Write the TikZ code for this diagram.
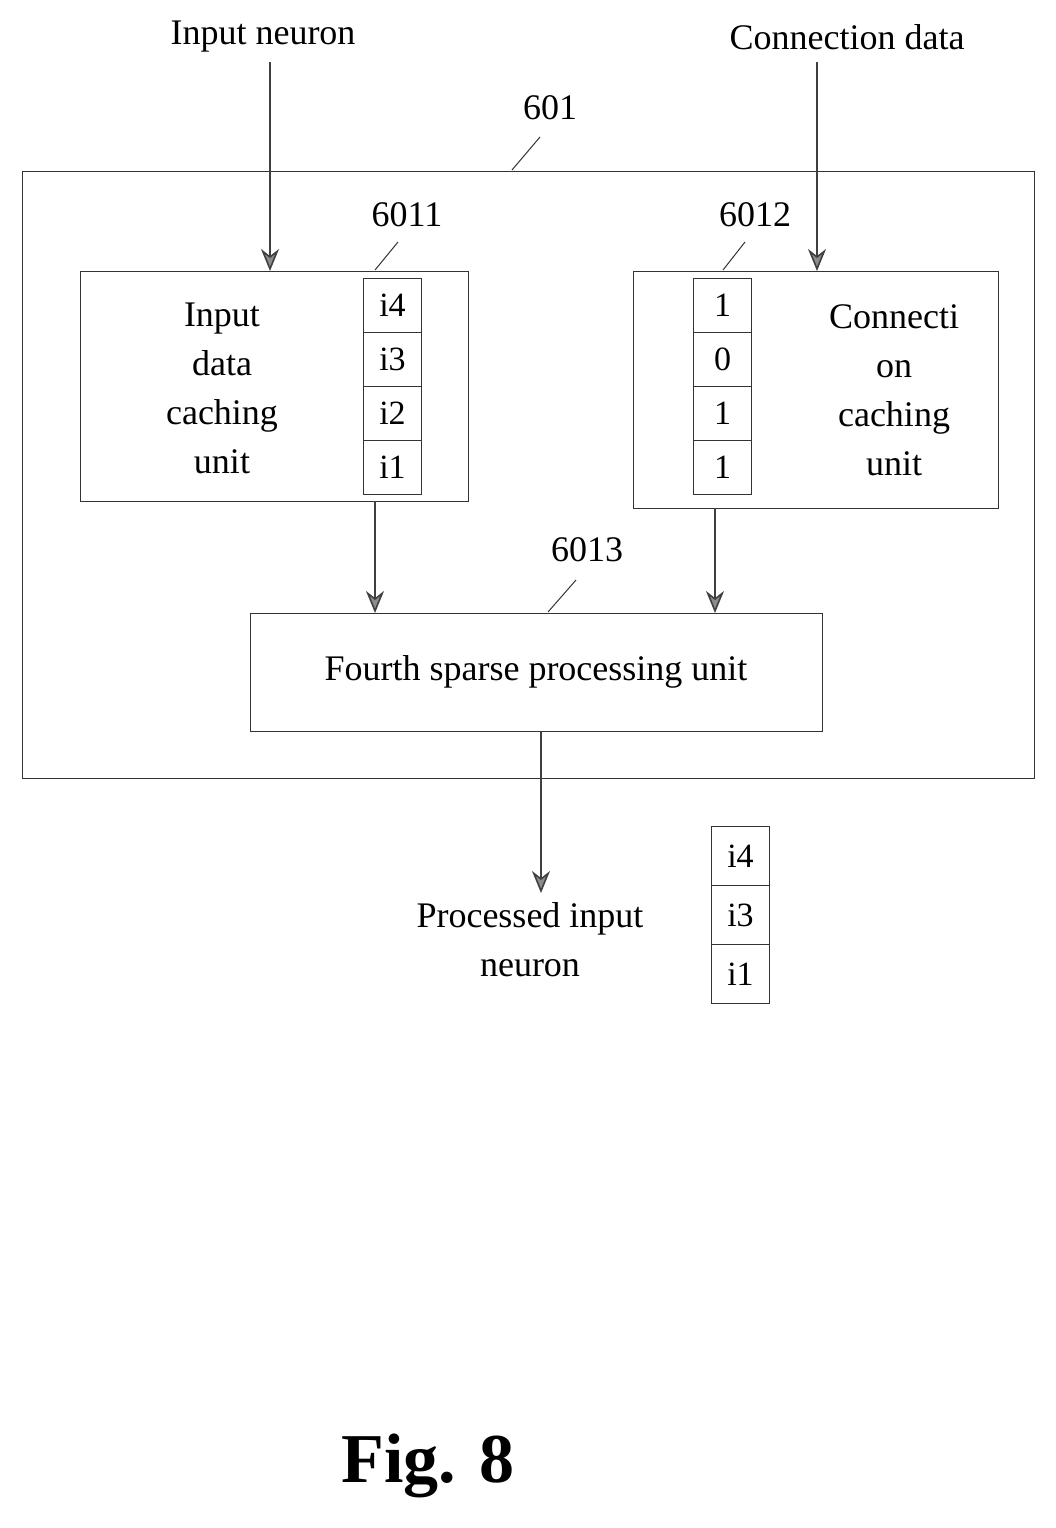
\documentclass[tikz,border=0pt]{standalone}
\usepackage{fontspec}
\setmainfont{Liberation Serif}
\usetikzlibrary{arrows.meta}
\begin{document}
\begin{tikzpicture}[x=1pt,y=-1pt,
  box/.style={draw=black!80,line width=1pt},
  cell/.style={draw=black!80,line width=1pt,minimum width=58pt,minimum height=54pt,inner sep=0pt,font=\fontsize{34}{36}\selectfont},
  arr/.style={draw=black!75,line width=1.6pt,-{Stealth[length=22pt,width=18pt,inset=7pt,fill=black!45]}},
  lead/.style={draw=black!80,line width=1pt},
  txt/.style={font=\fontsize{36}{49}\selectfont,align=center,inner sep=0pt}]
\useasboundingbox (0,0) rectangle (1056,1528);
\node[box,minimum width=1012pt,minimum height=607pt,anchor=north west] (b601) at (22,171) {};
\node[box,minimum width=388pt,minimum height=230pt,anchor=north west] (b6011) at (80,271) {};
\node[box,minimum width=365pt,minimum height=237pt,anchor=north west] (b6012) at (633,271) {};
\node[box,minimum width=572pt,minimum height=118pt,anchor=north west,txt] (b6013) at (250,613) {};
\node[txt] at (536,672) {Fourth sparse processing unit};
\node[txt] (t6011) at (222,388) {Input\\data\\caching\\unit};
\node[txt] (t6012) at (894,390) {Connecti\\on\\caching\\unit};
\foreach \t [count=\i] in {i4,i3,i2,i1}
  \node[cell,anchor=north west] (a\i) at (363,{278+54*(\i-1)}) {\t};
\foreach \t [count=\i] in {1,0,1,1}
  \node[cell,anchor=north west] (c\i) at (693,{278+54*(\i-1)}) {\t};
\foreach \t [count=\i] in {i4,i3,i1}
  \node[cell,minimum height=59pt,anchor=north west] (p\i) at (711,{826+59*(\i-1)}) {\t};
\node[txt] (in) at (263,37) {Input neuron};
\node[txt] (cd) at (847,37) {Connection data};
\node[txt] (out) at (530,940) {Processed input\\neuron};
\node[txt] (l601) at (550,108) {601};
\node[txt] (l6011) at (407,215) {6011};
\node[txt] (l6012) at (755,215) {6012};
\node[txt] (l6013) at (587,550) {6013};
\node[font=\bfseries\fontsize{70}{80}\selectfont] (fig) at (428,1466) {Fig. 8};
\coordinate (s1) at (270,62); \coordinate (e1) at (270,271);
\coordinate (s2) at (817,62); \coordinate (e2) at (817,271);
\coordinate (s3) at (375,501); \coordinate (e3) at (375,613);
\coordinate (s4) at (715,508); \coordinate (e4) at (715,613);
\coordinate (s5) at (541,731); \coordinate (e5) at (541,893);
\foreach \i in {1,...,5} \draw[arr] (s\i) -- (e\i);
\draw[lead] (512,170) -- (540,137);
\draw[lead] (375,270) -- (398,242);
\draw[lead] (723,270) -- (745,242);
\draw[lead] (548,612) -- (576,580);
\end{tikzpicture}
\end{document}
